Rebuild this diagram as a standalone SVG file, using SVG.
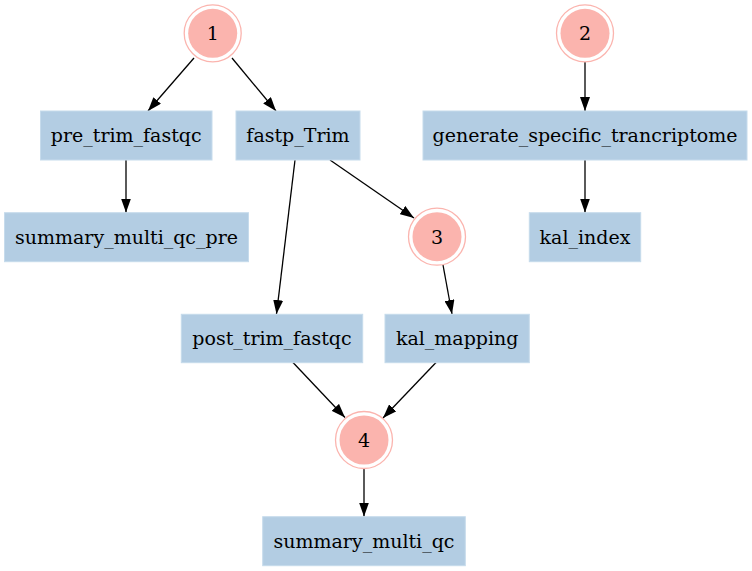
<svg xmlns="http://www.w3.org/2000/svg" width="752" height="571" viewBox="0 0 752 571">
  <style>
    .job rect { fill: #b3cde3; stroke: #c6dbec; stroke-width: 1; }
    .grp .ring { fill: none; stroke: #fbb4ae; stroke-width: 1.3; }
    .grp .core { fill: #fbb4ae; stroke: none; }
    text { font-family: "DejaVu Serif", serif; font-size: 19px; fill: #000; text-anchor: middle; }
    .edges line { stroke: #000; stroke-width: 1.3; }
  </style>
  <defs>
    <marker id="arrow" viewBox="0 0 14 10" refX="14" refY="5" markerWidth="14" markerHeight="10" markerUnits="userSpaceOnUse" orient="auto">
      <path d="M0,0 L14,5 L0,10 Z" fill="#000"/>
    </marker>
  </defs>

  <rect width="752" height="571" fill="#fff"/>

  <!-- connectors -->
  <g class="edges">
    <line x1="194" y1="58" x2="148" y2="111" marker-end="url(#arrow)"/>
    <line x1="232" y1="58" x2="276" y2="111" marker-end="url(#arrow)"/>
    <line x1="585" y1="62" x2="585" y2="111" marker-end="url(#arrow)"/>
    <line x1="126" y1="160" x2="126" y2="212.5" marker-end="url(#arrow)"/>
    <line x1="295" y1="160" x2="276.5" y2="314" marker-end="url(#arrow)"/>
    <line x1="330" y1="160" x2="414" y2="218" marker-end="url(#arrow)"/>
    <line x1="585" y1="160" x2="585" y2="212.5" marker-end="url(#arrow)"/>
    <line x1="443" y1="265" x2="452" y2="314" marker-end="url(#arrow)"/>
    <line x1="293" y1="362.5" x2="345" y2="417.5" marker-end="url(#arrow)"/>
    <line x1="436" y1="362.5" x2="383" y2="418" marker-end="url(#arrow)"/>
    <line x1="364" y1="469" x2="364" y2="516.5" marker-end="url(#arrow)"/>
  </g>

  <!-- group markers -->
  <g id="g1" class="grp">
    <circle class="ring" cx="212.7" cy="33.3" r="28.5"/>
    <circle class="core" cx="212.7" cy="33.3" r="24.5"/>
    <text x="212.7" y="40">1</text>
  </g>
  <g id="g2" class="grp">
    <circle class="ring" cx="585" cy="33.3" r="28.5"/>
    <circle class="core" cx="585" cy="33.3" r="24.5"/>
    <text x="585" y="40">2</text>
  </g>
  <g id="g3" class="grp">
    <circle class="ring" cx="437" cy="236.7" r="28.5"/>
    <circle class="core" cx="437" cy="236.7" r="24.5"/>
    <text x="437" y="243.5">3</text>
  </g>
  <g id="g4" class="grp">
    <circle class="ring" cx="364" cy="440" r="28.5"/>
    <circle class="core" cx="364" cy="440" r="24.5"/>
    <text x="364" y="446.8">4</text>
  </g>

  <!-- jobs -->
  <g id="pre_trim_fastqc" class="job">
    <rect x="40.5" y="111" width="171.5" height="49"/>
    <text x="126.2" y="142">pre_trim_fastqc</text>
  </g>
  <g id="fastp_Trim" class="job">
    <rect x="236" y="111" width="124" height="49"/>
    <text x="298" y="142">fastp_Trim</text>
  </g>
  <g id="generate_specific_trancriptome" class="job">
    <rect x="423" y="111" width="324" height="49"/>
    <text x="585" y="142">generate_specific_trancriptome</text>
  </g>
  <g id="summary_multi_qc_pre" class="job">
    <rect x="4.5" y="212.7" width="244" height="49"/>
    <text x="126.5" y="243.7">summary_multi_qc_pre</text>
  </g>
  <g id="kal_index" class="job">
    <rect x="529.3" y="212.7" width="111.4" height="49"/>
    <text x="585" y="243.7">kal_index</text>
  </g>
  <g id="post_trim_fastqc" class="job">
    <rect x="181.3" y="314.3" width="181.4" height="48.4"/>
    <text x="272" y="345">post_trim_fastqc</text>
  </g>
  <g id="kal_mapping" class="job">
    <rect x="385" y="314.3" width="144.3" height="48.4"/>
    <text x="457.2" y="345">kal_mapping</text>
  </g>
  <g id="summary_multi_qc" class="job">
    <rect x="262.7" y="516.7" width="202.6" height="49"/>
    <text x="364" y="547.7">summary_multi_qc</text>
  </g>
</svg>
